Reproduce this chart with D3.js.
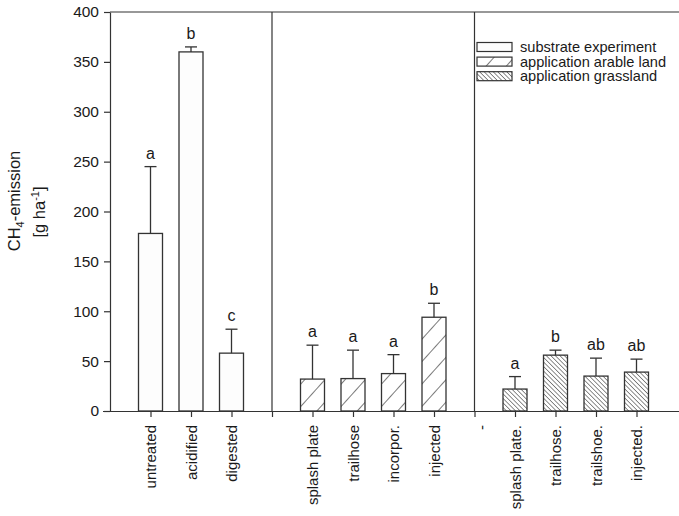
<!DOCTYPE html>
<html><head><meta charset="utf-8">
<script src="https://cdn.jsdelivr.net/npm/d3@7"></script>
<style>
body{margin:0;background:#fff;}
svg text{font-family:"Liberation Sans",Arial,Helvetica,sans-serif;fill:#1a1a1a;}
</style></head>
<body>
<svg id="c" width="679" height="516"></svg>
<script>
// ---- data ----
const xLabels = ["untreated","acidified","digested","","splash plate","trailhose","incorpor.","injected","-","splash plate.","trailhose.","trailshoe.","injected."];
const groups  = ["sub","sub","sub",null,"arable","arable","arable","arable",null,"grass","grass","grass","grass"];
const values  = [178,360,58,null,32,32.5,37.5,94,null,22,56,35,39];
const errTops = [245,365,82,null,66,61,56.5,108,null,34.5,61,53,52];
const letters = ["a","b","c",null,"a","a","a","b",null,"a","b","ab","ab"];
const yTicks  = [0,50,100,150,200,250,300,350,400];
const legendItems = [["sub","substrate experiment"],["arable","application arable land"],["grass","application grassland"]];

const svg = d3.select("#c");
const defs = svg.append("defs");
// hatch patterns
const pA = defs.append("pattern").attr("id","hatchA").attr("patternUnits","userSpaceOnUse")
  .attr("width",15).attr("height",15).attr("patternTransform","rotate(42)");
pA.append("rect").attr("width",15).attr("height",15).attr("fill","#fff");
pA.append("line").attr("x1",0).attr("y1",0).attr("x2",0).attr("y2",15).attr("stroke","#333").attr("stroke-width",1.3);
const pG = defs.append("pattern").attr("id","hatchG").attr("patternUnits","userSpaceOnUse")
  .attr("width",3.2).attr("height",3.2).attr("patternTransform","rotate(-45)");
pG.append("rect").attr("width",3.2).attr("height",3.2).attr("fill","#fff");
pG.append("line").attr("x1",0).attr("y1",0).attr("x2",0).attr("y2",3.2).attr("stroke","#333").attr("stroke-width",1.1);
const fills = {sub:"#fdfdfd", arable:"url(#hatchA)", grass:"url(#hatchG)"};

const pLeft=110, pRight=677, pTop=12, pBottom=411;
const idx = d3.range(xLabels.length);
const x = d3.scalePoint().domain(idx).range([pLeft,pRight]).padding(1);
const y = d3.scaleLinear().domain([0,400]).range([pBottom,pTop]);
const bw = 24;

// frame: top line and dividers
svg.append("line").attr("x1",pLeft).attr("x2",679).attr("y1",pTop).attr("y2",pTop).attr("stroke","#333").attr("stroke-width",1.2);
[3,8].forEach(i=>{
  svg.append("line").attr("x1",x(i)).attr("x2",x(i)).attr("y1",pTop).attr("y2",pBottom).attr("stroke","#333").attr("stroke-width",1.2);
});

// bars
const data = idx.filter(i=>values[i]!=null);
svg.append("g").selectAll("rect").data(data).join("rect")
  .attr("x",i=>x(i)-bw/2).attr("width",bw)
  .attr("y",i=>y(values[i])).attr("height",i=>y(0)-y(values[i]))
  .attr("fill",i=>fills[groups[i]]).attr("stroke","#333").attr("stroke-width",1.3);

// error bars
const eg = svg.append("g").attr("stroke","#333").attr("stroke-width",1.3);
data.forEach(i=>{
  eg.append("line").attr("x1",x(i)).attr("x2",x(i)).attr("y1",y(values[i])).attr("y2",y(errTops[i]));
  eg.append("line").attr("x1",x(i)-6).attr("x2",x(i)+6).attr("y1",y(errTops[i])).attr("y2",y(errTops[i]));
});
// letters
svg.append("g").selectAll("text").data(data).join("text")
  .attr("x",i=>x(i)).attr("y",i=>y(errTops[i])-8).attr("text-anchor","middle")
  .style("font-size","16px").text(i=>letters[i]);

// axes
const yAxis = svg.append("g").attr("transform",`translate(${pLeft},0)`)
  .call(d3.axisLeft(y).tickValues(yTicks).tickSize(6).tickSizeOuter(0));
yAxis.selectAll("text").style("font-size","15.5px").attr("x",-11);
const xAxis = svg.append("g").attr("transform",`translate(0,${pBottom})`)
  .call(d3.axisBottom(x).tickSize(6).tickSizeOuter(0).tickFormat(i=>xLabels[i]));
xAxis.select(".domain").attr("d",`M${pLeft-7},0.5H679`);
xAxis.selectAll("text").style("font-size","15px")
  .attr("transform","rotate(-90)").attr("text-anchor","end")
  .attr("x",-14).attr("y",0).attr("dy","0.36em");
xAxis.selectAll(".tick").filter(i=>i===8).select("text").attr("y",7);
[yAxis,xAxis].forEach(g=>{g.selectAll("line,path").attr("stroke","#333").attr("stroke-width",1.2);});

// y label
const yl1 = svg.append("text").attr("transform","translate(20,201) rotate(-90)").attr("text-anchor","middle").style("font-size","16.5px");
yl1.append("tspan").text("CH");
yl1.append("tspan").attr("dy",4).style("font-size","11px").text("4");
yl1.append("tspan").attr("dy",-4).text("-emission");
const yl2 = svg.append("text").attr("transform","translate(45,212) rotate(-90)").attr("text-anchor","middle").style("font-size","16.5px");
yl2.append("tspan").text("[g ha");
yl2.append("tspan").attr("dy",-6).style("font-size","11px").text("-1");
yl2.append("tspan").attr("dy",6).text("]");

// legend
const lg = svg.append("g");
legendItems.forEach((d,k)=>{
  const cy = 47 + k*14.6;
  lg.append("rect").attr("x",477).attr("y",cy-4.5).attr("width",35).attr("height",9)
    .attr("fill",fills[d[0]]).attr("stroke","#333").attr("stroke-width",1.2);
  lg.append("text").attr("x",520).attr("y",cy+5).style("font-size","14.6px").text(d[1]);
});
</script>
</body></html>
